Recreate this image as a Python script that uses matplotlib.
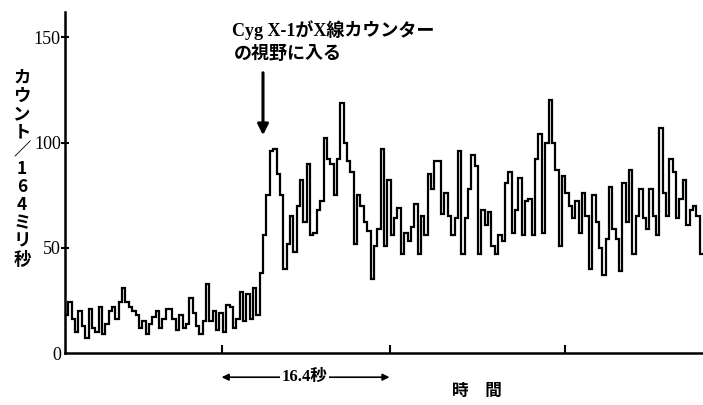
import numpy as np
import matplotlib
matplotlib.use("Agg")
import matplotlib.pyplot as plt

# ---- data (counts per bin) ----
bin_width_s = 0.328  # seconds per drawn step
counts_before = [18, 24, 16, 10, 20, 13, 7, 21, 12, 10, 22, 9, 14, 20, 22, 16,
                 24, 31, 24, 22, 20, 18, 12, 15, 9, 14, 17, 20, 12, 16, 21, 21,
                 16, 11, 18, 12, 14, 26, 19, 13, 9, 15, 33, 15, 20, 11, 19, 10,
                 23, 22, 12, 16, 29, 15, 28, 16, 31, 18]
counts_after = [38, 56, 75, 96, 97, 85, 75, 40, 52, 65, 48, 70, 82, 62, 90, 56,
                57, 68, 72, 102, 92, 90, 75, 92, 119, 100, 91, 86, 52, 75, 70, 62,
                58, 35, 51, 59,
                97, 51, 82, 56, 64, 69, 47, 57, 53, 60,
                71, 47, 65, 56, 85, 78, 91, 91, 66, 76,
                65, 56, 64, 96, 47, 64, 78, 94, 89, 47,
                68, 61, 67, 51, 47, 56, 53, 81, 86, 57,
                68, 83, 56, 72, 73, 56, 92, 104, 57, 100,
                120, 100, 87, 51, 84, 76, 70, 64, 72, 57,
                76, 65, 40, 75, 62, 50, 37, 54, 79, 59,
                54, 39, 81, 62, 87, 47, 65, 78, 64, 59,
                78, 65, 56, 107, 76, 65, 92, 86, 64, 73,
                82, 61, 68, 70, 65, 47]
y_ticks = [0, 50, 100, 150]
x_ticks = [15.3, 31.7, 48.8]
span_start, span_end = 15.3, 31.7
span_label = "16.4秒"
ylabel_chars = ["カ", "ウ", "ン", "ト", "／", "1", "6", "4", "ミ", "リ", "秒"]
annot_line1 = "Cyg X-1がX線カウンター"
annot_line2 = "の視野に入る"
xlabel = "時　間"

counts = np.array(counts_before + counts_after, dtype=float)
edges = np.arange(len(counts) + 1) * bin_width_s

W, H = 703, 405
fam = ["Liberation Serif", "Noto Sans CJK JP"]
plt.rcParams["font.family"] = fam

fig = plt.figure(figsize=(W / 100, H / 100), dpi=100)
fig.patch.set_facecolor("white")

def fx(x):
    return x / W

def fy(y):
    return 1 - y / H

ax = fig.add_axes([fx(65), fy(353), fx(703) - fx(65), fy(12) - fy(353)])
ax.stairs(counts, edges, color="black", linewidth=1.6, baseline=None)
ax.set_xlim(0, edges[-1])
ax.set_ylim(0, 162)

for s in ["top", "right"]:
    ax.spines[s].set_visible(False)
for s in ["left", "bottom"]:
    ax.spines[s].set_linewidth(1.8)

ax.set_yticks(y_ticks)
ax.set_yticklabels([str(v) for v in y_ticks], fontsize=13)
ax.tick_params(axis="y", direction="inout", length=6, width=1.5, pad=0)
ax.yaxis.get_major_ticks()[0].tick1line.set_visible(False)
ax.set_xticks(x_ticks)
ax.set_xticklabels([])
ax.tick_params(axis="x", direction="in", length=6, width=1.5)

# vertical y label, one character per row
for i, ch in enumerate(ylabel_chars):
    fig.text(fx(22), fy(78 + i * 18.2), ch, fontsize=12.5, ha="center", va="center",
             family=["Noto Sans CJK JP", "DejaVu Sans"] if ch != "／" else ["Noto Sans CJK JP"],
             fontweight="bold")

# annotation text and arrow
fig.text(fx(232), fy(30), annot_line1, fontsize=13, ha="left", va="center",
         fontweight="bold")
fig.text(fx(234), fy(54), annot_line2, fontsize=13, ha="left", va="center",
         fontweight="bold")
fig.add_artist(matplotlib.patches.FancyArrowPatch(
    (fx(263), fy(70)), (fx(263), fy(138)), transform=fig.transFigure,
    arrowstyle="-|>", mutation_scale=16, linewidth=2.2, color="black"))

# 16.4 s span arrow below axis
yb = -11.5
ax.annotate("", xy=(span_start, yb), xytext=(span_end, yb), xycoords="data",
            textcoords="data", annotation_clip=False,
            arrowprops=dict(arrowstyle="<|-|>", color="black", lw=1.2,
                            mutation_scale=10, shrinkA=0, shrinkB=0))
ax.text(23.4, yb, span_label, fontsize=12, ha="center", va="center",
        bbox=dict(facecolor="white", edgecolor="none", pad=1.0), clip_on=False,
        fontweight="bold")

fig.text(fx(477), fy(392), xlabel, fontsize=12, ha="center", va="center",
         fontweight="bold")

fig.savefig("out.png", dpi=100, facecolor="white")
